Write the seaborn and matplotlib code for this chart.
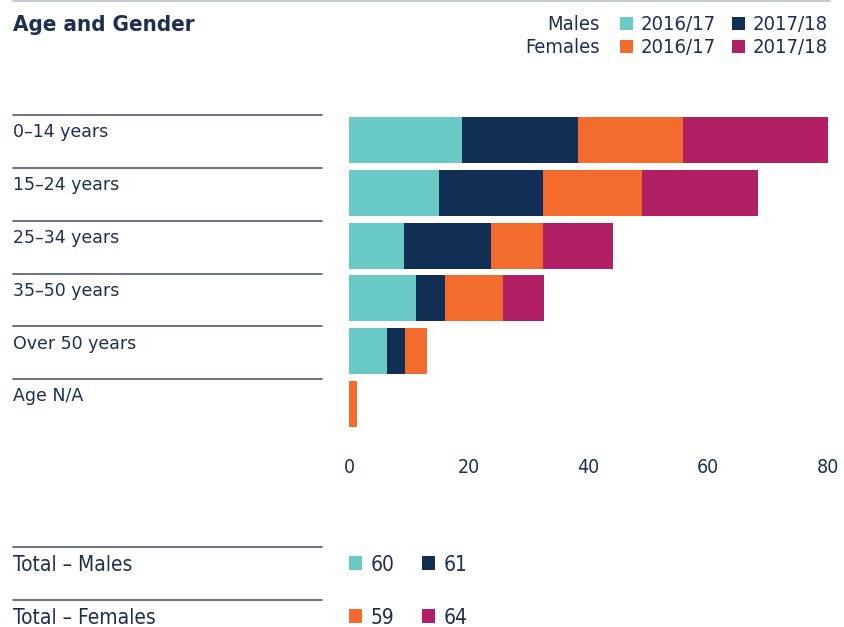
import matplotlib.pyplot as plt
import numpy as np
import seaborn as sns
from matplotlib.patches import Rectangle
from matplotlib.transforms import blended_transform_factory

# Data
ages = ['0–14 years', '15–24 years', '25–34 years', '35–50 years', 'Over 50 years', 'Age N/A']
males_1617 = [18.9, 15.0, 9.2, 11.2, 6.3, 0.0]
males_1718 = [19.4, 17.4, 14.5, 4.8, 3.0, 0.0]
females_1617 = [17.4, 16.5, 8.7, 9.8, 3.8, 1.3]
females_1718 = [24.3, 19.4, 11.7, 6.7, 0.0, 0.0]
years = ['2016/17', '2017/18']
total_males = [60, 61]
total_females = [59, 64]
xticks = [0, 20, 40, 60, 80]

colors = ['#69c9c5', '#112f55', '#f36c2e', '#b11f65']
navy = '#1c2f52'
rule = '#4a5a76'

sns.set_style('white')
plt.rcParams['font.family'] = ['DejaVu Sans']
plt.rcParams['font.stretch'] = 'condensed'

W, H = 844, 627
fig = plt.figure(figsize=(W / 100, H / 100), dpi=100)


def fx(px):
    return px / W


def fy(py):
    return 1 - py / H


ax = fig.add_axes([fx(349), fy(430.4), fx(828) - fx(349), (430.4 - 113.6) / H])

# stacked bars: draw cumulative totals from the back to the front
cum = np.cumsum([males_1617, males_1718, females_1617, females_1718], axis=0)
for k in range(3, -1, -1):
    sns.barplot(x=cum[k], y=ages, color=colors[k], orient='h', width=0.87,
                saturation=1, linewidth=0, ax=ax)

ax.set_xlim(0, 80)
ax.set_ylim(5.5, -0.5)
ax.set_xticks(xticks)
ax.set_yticks([])
ax.set_xlabel('')
ax.set_ylabel('')
for s in ax.spines.values():
    s.set_visible(False)
ax.tick_params(axis='x', length=0, pad=20, labelsize=14, labelcolor=navy)

# category labels with rules on the left
trans = blended_transform_factory(fig.transFigure, ax.transData)
for i, a in enumerate(ages):
    ax.plot([fx(13), fx(322)], [i - 0.47, i - 0.47], transform=trans,
            color=rule, lw=1.2, clip_on=False)
    ax.text(fx(13), i - 0.05, a, transform=trans, va='baseline', ha='left',
            fontsize=12.5, color=navy, fontstretch='normal')

# top rule and title
fig.add_artist(plt.Line2D([fx(13), fx(830)], [fy(1), fy(1)], color='#c5ccd6', lw=1.5))
fig.text(fx(13), fy(31), 'Age and Gender', fontsize=16, fontweight='bold',
         color=navy, va='baseline')

# legend at top right
for r, (grp, cols) in enumerate([('Males', colors[:2]), ('Females', colors[2:])]):
    yb = 30 + r * 23
    fig.text(fx(600), fy(yb), grp, ha='right', va='baseline', fontsize=14.5, color=navy)
    for j, yr in enumerate(years):
        x0 = 620 + j * 112
        fig.add_artist(Rectangle((fx(x0), fy(yb)), fx(13), 13 / H,
                                 transform=fig.transFigure, color=cols[j], lw=0))
        fig.text(fx(x0 + 21), fy(yb), yr, ha='left', va='baseline', fontsize=14.5, color=navy)

# totals
for r, (lab, vals, cols) in enumerate([('Total – Males', total_males, colors[:2]),
                                       ('Total – Females', total_females, colors[2:])]):
    yl = 547 + r * 53
    yb = yl + 24
    fig.add_artist(plt.Line2D([fx(13), fx(322)], [fy(yl), fy(yl)], color=rule, lw=1.2))
    fig.text(fx(13), fy(yb), lab, ha='left', va='baseline', fontsize=15, color=navy)
    for j, v in enumerate(vals):
        x0 = 349 + j * 73
        fig.add_artist(Rectangle((fx(x0), fy(yb - 1)), fx(13), 14 / H,
                                 transform=fig.transFigure, color=cols[j], lw=0))
        fig.text(fx(x0 + 22), fy(yb), str(v), ha='left', va='baseline', fontsize=15, color=navy)

fig.savefig('out.png', dpi=100)
